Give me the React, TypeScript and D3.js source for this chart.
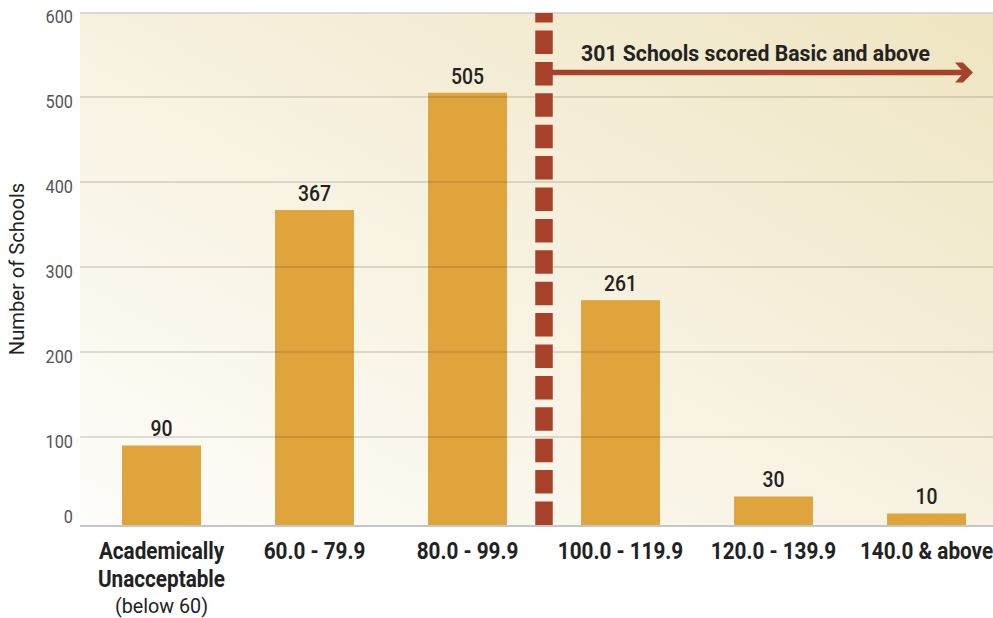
import { useEffect, useRef } from 'react';
import * as d3 from 'd3';

const categories = ['acad', '60-79', '80-99', '100-119', '120-139', '140+'];
const categoryLines = [
  ['Academically', 'Unacceptable'],
  ['60.0 - 79.9'],
  ['80.0 - 99.9'],
  ['100.0 - 119.9'],
  ['120.0 - 139.9'],
  ['140.0 & above'],
];
const schoolCounts = [90, 367, 505, 261, 30, 10];
const yTicks = [0, 100, 200, 300, 400, 500, 600];
const subNote = '(below 60)';
const annotation = '301 Schools scored Basic and above';
const yTitle = 'Number of Schools';

const FONT = "Roboto, 'Liberation Sans', sans-serif";

// the reference uses a condensed face; Roboto is squeezed horizontally
function squeezed(sel: any, k: number) {
  return sel.append('g').attr('transform', `scale(${k},1)`);
}

export default function App() {
  const svgRef = useRef<SVGSVGElement | null>(null);

  useEffect(() => {
    if (!svgRef.current) return;
    const svg = d3.select(svgRef.current);
    svg.selectAll('*').remove();

    const width = 993;
    const height = 618;
    const plotLeft = 80;
    const plotRight = 993;
    const plotTop = 13;
    const baseline = 525;

    svg.attr('width', width).attr('height', height);

    const x = d3
      .scaleBand()
      .domain(categories)
      .range([85, 1003])
      .paddingInner(0.484)
      .paddingOuter(0.242);

    const y = d3.scaleLinear().domain([0, 600]).range([522, 12]);
    const cx = (i: number) => (x(categories[i]) as number) + x.bandwidth() / 2;

    // background gradient
    const defs = svg.append('defs');
    const grad = defs
      .append('linearGradient')
      .attr('id', 'bg')
      .attr('x1', 0)
      .attr('y1', 1)
      .attr('x2', 1)
      .attr('y2', 0);
    grad.append('stop').attr('offset', '0%').attr('stop-color', '#fefdfa');
    grad.append('stop').attr('offset', '55%').attr('stop-color', '#f6f0dd');
    grad.append('stop').attr('offset', '100%').attr('stop-color', '#efe5c1');

    svg
      .append('rect')
      .attr('x', plotLeft)
      .attr('y', plotTop)
      .attr('width', plotRight - plotLeft)
      .attr('height', baseline - plotTop)
      .attr('fill', 'url(#bg)');

    // top border
    svg
      .append('line')
      .attr('x1', plotLeft)
      .attr('x2', plotRight)
      .attr('y1', plotTop)
      .attr('y2', plotTop)
      .attr('stroke', '#cfcfcf')
      .attr('stroke-width', 1.5);

    // bars
    svg
      .append('g')
      .selectAll('rect')
      .data(schoolCounts)
      .join('rect')
      .attr('x', (_, i) => x(categories[i]) as number)
      .attr('y', (d) => y(d))
      .attr('width', x.bandwidth())
      .attr('height', (d) => baseline - y(d))
      .attr('fill', '#e0a43c');

    // grid lines (drawn over bars)
    svg
      .append('g')
      .selectAll('line')
      .data(yTicks.filter((t) => t > 0 && t < 600))
      .join('line')
      .attr('x1', plotLeft)
      .attr('x2', plotRight)
      .attr('y1', (d) => y(d))
      .attr('y2', (d) => y(d))
      .attr('stroke', 'rgba(60,50,30,0.2)')
      .attr('stroke-width', 1.5);

    // baseline axis
    svg
      .append('line')
      .attr('x1', plotLeft)
      .attr('x2', plotRight)
      .attr('y1', baseline + 1)
      .attr('y2', baseline + 1)
      .attr('stroke', '#c6c6c6')
      .attr('stroke-width', 2);

    // y tick labels
    const kTick = 0.88;
    squeezed(svg, kTick)
      .selectAll('text')
      .data(yTicks)
      .join('text')
      .attr('x', 73 / kTick)
      .attr('y', (d) => (d === 0 ? baseline - 7 : y(d) + 6))
      .attr('text-anchor', 'end')
      .attr('dominant-baseline', 'middle')
      .attr('font-family', FONT)
      .attr('font-size', 18.5)
      .attr('fill', '#555')
      .text((d) => d);

    // y title
    svg
      .append('text')
      .attr('transform', `translate(24,${(plotTop + baseline) / 2}) rotate(-90) scale(0.96,1)`)
      .attr('text-anchor', 'middle')
      .attr('font-family', FONT)
      .attr('font-size', 21)
      .attr('fill', '#222')
      .text(yTitle);

    // value labels
    const kVal = 0.9;
    squeezed(svg, kVal)
      .selectAll('text')
      .data(schoolCounts)
      .join('text')
      .attr('x', (_, i) => cx(i) / kVal)
      .attr('y', (d) => y(d) - 9)
      .attr('text-anchor', 'middle')
      .attr('font-family', FONT)
      .attr('font-weight', 500)
      .attr('font-size', 21.5)
      .attr('fill', '#222')
      .text((d) => d);

    // category labels
    const kCat = 0.9;
    const cat = squeezed(svg, kCat)
      .selectAll('text')
      .data(categoryLines)
      .join('text')
      .attr('x', (_: any, i: number) => cx(i) / kCat)
      .attr('y', 559)
      .attr('text-anchor', 'middle')
      .attr('font-family', FONT)
      .attr('font-weight', 'bold')
      .attr('font-size', 23)
      .attr('fill', '#222');
    cat
      .selectAll('tspan')
      .data((d: string[]) => d)
      .join('tspan')
      .attr('x', function (this: any) {
        return (this.parentNode as SVGTextElement).getAttribute('x');
      })
      .attr('dy', (_: any, j: number) => (j === 0 ? 0 : 28))
      .text((d: string) => d);

    const kNote = 0.94;
    squeezed(svg, kNote)
      .append('text')
      .attr('x', cx(0) / kNote)
      .attr('y', 613)
      .attr('text-anchor', 'middle')
      .attr('font-family', FONT)
      .attr('font-size', 21)
      .attr('fill', '#222')
      .text(subNote);

    // dashed divider between 80-99.9 and 100-119.9
    const divX = (cx(2) + cx(3)) / 2;
    svg
      .append('line')
      .attr('x1', divX)
      .attr('x2', divX)
      .attr('y1', baseline)
      .attr('y2', plotTop)
      .attr('stroke', '#a8412a')
      .attr('stroke-width', 17.5)
      .attr('stroke-dasharray', '23.5 7.9');

    // arrow
    const arrowY = 72.5;
    const tipX = 973;
    svg
      .append('line')
      .attr('x1', divX + 8)
      .attr('x2', tipX - 6)
      .attr('y1', arrowY)
      .attr('y2', arrowY)
      .attr('stroke', '#a8412a')
      .attr('stroke-width', 5.5);
    svg
      .append('polygon')
      .attr(
        'points',
        [
          [tipX - 18, arrowY - 10],
          [tipX - 10, arrowY - 10],
          [tipX, arrowY],
          [tipX - 10, arrowY + 10],
          [tipX - 18, arrowY + 10],
          [tipX - 9, arrowY],
        ]
          .map((p) => p.join(','))
          .join(' ')
      )
      .attr('fill', '#a8412a');

    svg
      .append('text')
      .attr('x', 581)
      .attr('y', 61)
      .attr('font-family', FONT)
      .attr('font-weight', 'bold')
      .attr('font-size', 22.5)
      .attr('fill', '#222')
      .attr('textLength', 349)
      .attr('lengthAdjust', 'spacingAndGlyphs')
      .text(annotation);
  }, []);

  return (
    <div style={{ position: 'absolute', left: 0, top: 0 }}>
      <svg ref={svgRef}></svg>
    </div>
  );
}
